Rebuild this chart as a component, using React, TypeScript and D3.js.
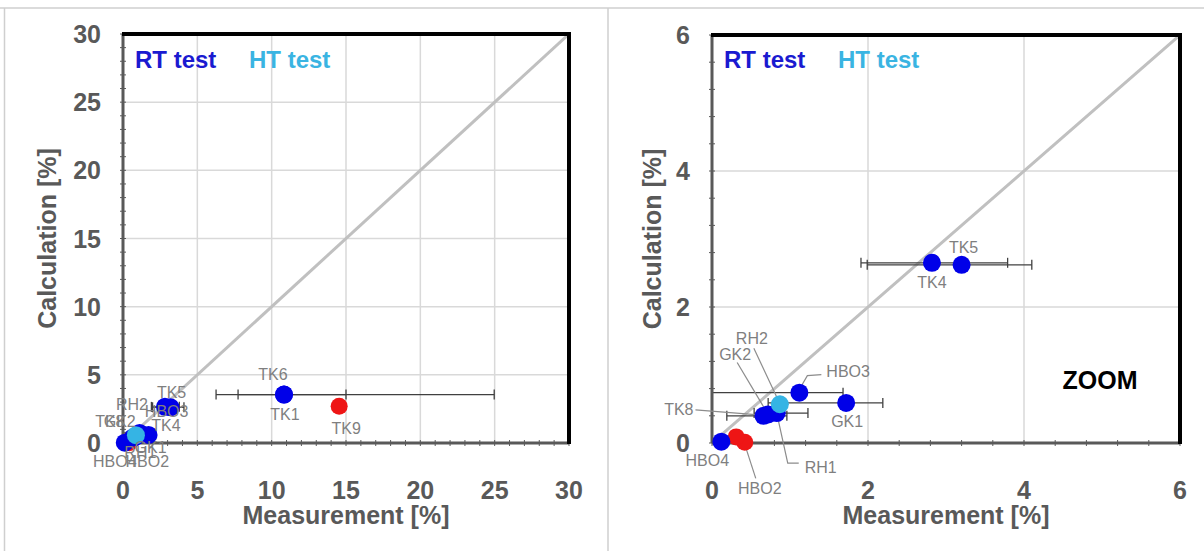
import React from "react";
import * as d3 from "d3";

// ---------- DATA ----------
const pointNames = ["TK1", "TK6", "TK9", "TK4", "TK5", "HBO3", "GK1", "RH2", "GK2", "TK8", "RH1", "HBO4", "HBO2", "HBO1"];
const measurement = [10.83, 10.83, 14.54, 2.82, 3.2, 1.12, 1.72, 0.87, 0.72, 0.66, 0.83, 0.12, 0.42, 0.31];
const calculation = [3.55, 3.55, 2.7, 2.65, 2.62, 0.74, 0.59, 0.57, 0.42, 0.4, 0.44, 0.02, 0.01, 0.09];
const testType = ["RT", "RT", "X", "RT", "RT", "RT", "RT", "HT", "RT", "RT", "RT", "RT", "X", "X"];
const errLow: (number | null)[] = [6.26, 7.74, null, 1.91, 1.99, -0.5, 0.72, null, null, 0.19, 0.54, null, null, null];
const errHigh: (number | null)[] = [24.97, 15.0, null, 3.79, 4.1, 1.68, 2.19, null, null, 0.96, 1.23, null, null, null];

const legendLabels = ["RT test", "HT test"];
const fullTicks = [0, 5, 10, 15, 20, 25, 30];
const zoomTicks = [0, 2, 4, 6];
const xTitle = "Measurement [%]";
const yTitle = "Calculation [%]";

// ---------- STYLE / LAYOUT ----------
const colors: Record<string, string> = { RT: "#0000e8", HT: "#35b4e4", X: "#ee1515" };
const drawOrder: Record<string, number> = { X: 0, RT: 1, HT: 2 };
const legendColors = ["#1a1ad0", "#3ab4e2"];
const FONT = "'Liberation Sans', Arial, sans-serif";
const GREY = "#595959";

type Lab = { dx: number; dy: number; anchor?: string; leader?: number[][] };

const leftLabels: Record<string, Lab> = {
  TK6: { dx: -11, dy: -20 },
  TK1: { dx: 1, dy: 20 },
  TK9: { dx: 7, dy: 22 },
  TK5: { dx: 1, dy: -15 },
  TK4: { dx: 1, dy: 19 },
  RH2: { dx: -4, dy: -31 },
  HBO3: { dx: 27, dy: -21 },
  GK1: { dx: 2, dy: 13 },
  GK2: { dx: -14, dy: -16 },
  TK8: { dx: -23, dy: -16 },
  RH1: { dx: 5, dy: 15 },
  HBO4: { dx: -10, dy: 19 },
  HBO2: { dx: 18, dy: 19 },
};

const rightLabels: Record<string, Lab> = {
  TK5: { dx: 2, dy: -17 },
  TK4: { dx: 0, dy: 20 },
  HBO3: { dx: 27, dy: -21, anchor: "start", leader: [[1, -5], [8, -17], [22, -18]] },
  GK1: { dx: 1, dy: 19 },
  RH2: { dx: -28, dy: -66, leader: [[-26, -56], [4, 8]] },
  GK2: { dx: -33, dy: -60, leader: [[-31, -52], [0, 0]] },
  TK8: { dx: -70, dy: -6, anchor: "end", leader: [[-68, -6], [-5, -1]] },
  RH1: { dx: 28, dy: 54, anchor: "start", leader: [[0, 0], [11, 50], [22, 50]] },
  HBO4: { dx: -14, dy: 19 },
  HBO2: { dx: 15, dy: 46, leader: [[0, 2], [11, 36]] },
};

type PanelCfg = {
  id: string;
  x0: number; x1: number; y0: number; y1: number;
  max: number; ticks: number[]; minor: number;
  labels: Record<string, Lab>;
  yTitleX: number;
  zoom?: boolean;
};

const panels: PanelCfg[] = [
  { id: "full", x0: 123, x1: 569, y0: 443, y1: 34, max: 30, ticks: fullTicks, minor: 1, labels: leftLabels, yTitleX: 47 },
  { id: "zoom", x0: 712, x1: 1180, y0: 443, y1: 35, max: 6, ticks: zoomTicks, minor: 0.4, labels: rightLabels, yTitleX: 652, zoom: true },
];

function Panel({ cfg }: { cfg: PanelCfg }) {
  const x = d3.scaleLinear().domain([0, cfg.max]).range([cfg.x0, cfg.x1]);
  const y = d3.scaleLinear().domain([0, cfg.max]).range([cfg.y0, cfg.y1]);
  const minorTicks = d3.range(0, cfg.max + 1e-9, cfg.minor);
  const clipId = "clip-" + cfg.id;
  const idx = d3.range(pointNames.length);
  const inDomain = (i: number) => measurement[i] <= cfg.max && calculation[i] <= cfg.max;
  const sortedIdx = idx.filter(inDomain).sort((a, b) => drawOrder[testType[a]] - drawOrder[testType[b]]);
  const diag = d3.line<number>().x((v) => x(v)).y((v) => y(v));
  const cap = 5;

  return (
    <g>
      <defs>
        <clipPath id={clipId}>
          <rect x={cfg.x0} y={cfg.y1} width={cfg.x1 - cfg.x0} height={cfg.y0 - cfg.y1} />
        </clipPath>
      </defs>
      {/* grid */}
      {cfg.ticks.slice(1, -1).map((t) => (
        <g key={"g" + t}>
          <line x1={x(t)} x2={x(t)} y1={cfg.y0} y2={cfg.y1} stroke="#d9d9d9" strokeWidth={1.5} />
          <line x1={cfg.x0} x2={cfg.x1} y1={y(t)} y2={y(t)} stroke="#d9d9d9" strokeWidth={1.5} />
        </g>
      ))}
      {/* 1:1 line */}
      <path d={diag([0, cfg.max]) || ""} stroke="#c0c0c0" strokeWidth={3} fill="none" clipPath={`url(#${clipId})`} />
      {/* error bars */}
      <g clipPath={`url(#${clipId})`}>
        {idx.filter((i) => errLow[i] !== null && calculation[i] <= cfg.max).map((i) => {
          const yy = y(calculation[i]);
          const lo = x(errLow[i] as number);
          const hi = x(errHigh[i] as number);
          return (
            <g key={"e" + i} stroke="#404040" strokeWidth={1.3}>
              <line x1={lo} x2={hi} y1={yy} y2={yy} />
              <line x1={lo} x2={lo} y1={yy - cap} y2={yy + cap} />
              <line x1={hi} x2={hi} y1={yy - cap} y2={yy + cap} />
            </g>
          );
        })}
      </g>
      {/* axes frame */}
      {minorTicks.map((t) => (
        <g key={"m" + t} stroke={GREY} strokeWidth={1}>
          <line x1={x(t)} x2={x(t)} y1={cfg.y0 - 3} y2={cfg.y0 + 3} />
          <line x1={cfg.x0 - 3} x2={cfg.x0 + 3} y1={y(t)} y2={y(t)} />
        </g>
      ))}
      <line x1={cfg.x0} x2={cfg.x1} y1={cfg.y0} y2={cfg.y0} stroke={GREY} strokeWidth={3} />
      <line x1={cfg.x0} x2={cfg.x0} y1={cfg.y0} y2={cfg.y1} stroke={GREY} strokeWidth={3} />
      <line x1={cfg.x0 - 1} x2={cfg.x1 + 2} y1={cfg.y1} y2={cfg.y1} stroke="#000" strokeWidth={4} />
      <line x1={cfg.x1} x2={cfg.x1} y1={cfg.y1} y2={cfg.y0 + 1} stroke="#000" strokeWidth={4} />
      {/* leader lines */}
      {idx.filter(inDomain).map((i) => {
        const lab = cfg.labels[pointNames[i]];
        if (!lab || !lab.leader) return null;
        const px = x(measurement[i]);
        const py = y(calculation[i]);
        const pts = lab.leader.map((p) => [px + p[0], py + p[1]] as [number, number]);
        return <path key={"l" + i} d={d3.line()(pts) || ""} stroke="#8c8c8c" strokeWidth={1.2} fill="none" />;
      })}
      {/* points */}
      {sortedIdx.map((i) => (
        <circle key={"p" + i} cx={x(measurement[i])} cy={y(calculation[i])} r={testType[i] === "X" ? 8.5 : 9}
          fill={colors[testType[i]]} />
      ))}
      {/* data labels */}
      {idx.filter(inDomain).map((i) => {
        const lab = cfg.labels[pointNames[i]];
        if (!lab) return null;
        return (
          <text key={"t" + i} x={x(measurement[i]) + lab.dx} y={y(calculation[i]) + lab.dy}
            textAnchor={lab.anchor || "middle"} dominantBaseline="central"
            fontFamily={FONT} fontSize={16} fill="#7f7f7f">{pointNames[i]}</text>
        );
      })}
      {/* tick labels */}
      {cfg.ticks.map((t) => (
        <text key={"xt" + t} x={x(t)} y={cfg.y0 + 47} textAnchor="middle" dominantBaseline="central"
          fontFamily={FONT} fontWeight="bold" fontSize={25} fill={GREY}>{t}</text>
      ))}
      {cfg.ticks.map((t) => (
        <text key={"yt" + t} x={cfg.x0 - 22} y={y(t)} textAnchor="end" dominantBaseline="central"
          fontFamily={FONT} fontWeight="bold" fontSize={25} fill={GREY}>{t}</text>
      ))}
      {/* titles */}
      <text x={(cfg.x0 + cfg.x1) / 2} y={515} textAnchor="middle" dominantBaseline="central"
        fontFamily={FONT} fontWeight="bold" fontSize={25} fill={GREY}>{xTitle}</text>
      <text transform={`translate(${cfg.yTitleX},${(cfg.y0 + cfg.y1) / 2}) rotate(-90)`} textAnchor="middle"
        dominantBaseline="central" fontFamily={FONT} fontWeight="bold" fontSize={25} fill={GREY}>{yTitle}</text>
      {/* legend */}
      {legendLabels.map((l, k) => (
        <text key={"lg" + k} x={cfg.x0 + 12 + k * 114} y={68} fontFamily={FONT} fontWeight="bold" fontSize={24}
          fill={legendColors[k]}>{l}</text>
      ))}
      {cfg.zoom && (
        <text x={1100} y={380} textAnchor="middle" dominantBaseline="central" fontFamily={FONT}
          fontWeight="bold" fontSize={25} fill="#000">ZOOM</text>
      )}
    </g>
  );
}

export default function App() {
  return (
    <svg width={1204} height={551} style={{ position: "absolute", left: 0, top: 0, background: "#fff" }}>
      <rect x={0} y={0} width={1204} height={551} fill="#fff" />
      <line x1={0} x2={1204} y1={8} y2={8} stroke="#cfcfcf" strokeWidth={1.5} />
      <line x1={4.5} x2={4.5} y1={8} y2={551} stroke="#cfcfcf" strokeWidth={1.5} />
      <line x1={608} x2={608} y1={8} y2={551} stroke="#cfcfcf" strokeWidth={1.5} />
      {panels.map((p) => <Panel key={p.id} cfg={p} />)}
    </svg>
  );
}
